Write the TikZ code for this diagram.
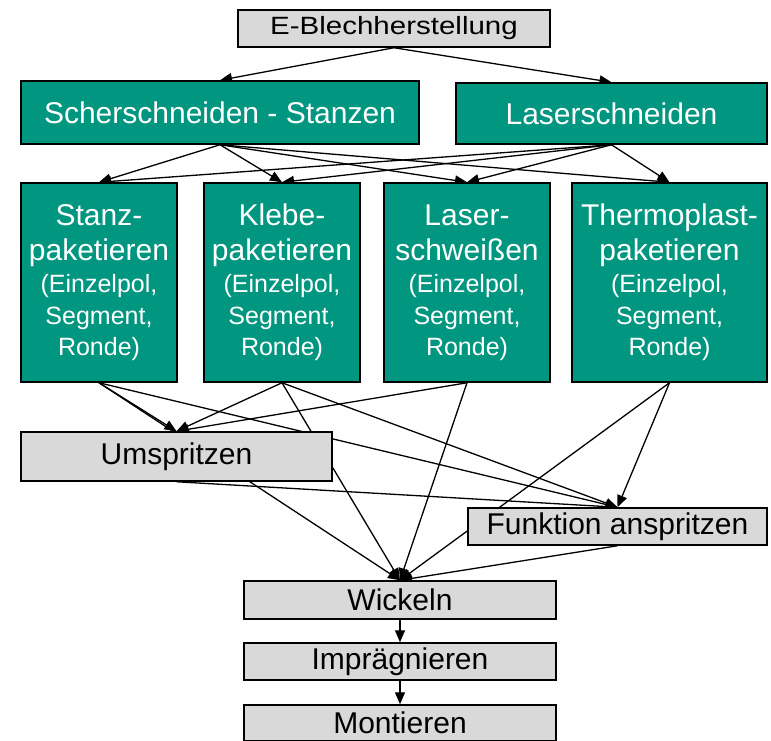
\documentclass[tikz,border=0pt]{standalone}
\usepackage{graphicx}
\usepackage{fontspec}
\setmainfont{Liberation Sans}
\usetikzlibrary{arrows.meta,backgrounds}

\definecolor{boxgreen}{RGB}{0,150,128}
\definecolor{boxgrey}{RGB}{217,217,217}
\newcommand{\bigf}{\fontsize{30}{35}\selectfont}
\newcommand{\smallf}{\fontsize{25}{30}\selectfont}

\begin{document}
\begin{tikzpicture}[x=1pt, y=-1pt,
		greybox/.style={draw, fill=boxgrey, line width=1.5pt, inner sep=0pt, font=\bigf},
		greenbox/.style={draw, fill=boxgreen, line width=1.5pt, inner sep=0pt, text=white, align=center, font=\bigf},
		arr/.style={-{Triangle[length=12pt,width=10pt]}, line width=1.3pt}]
		\useasboundingbox (0,0) rectangle (771,740);
		
		\node[greybox, minimum width=312pt, minimum height=37pt, font=\fontsize{25}{30}\selectfont] (eblech) at (394,28.5) {\scalebox{1.18}[1]{E-Blechherstellung}};
		\node[greenbox, minimum width=398pt, minimum height=63pt] (scher) at (220,112.5) {Scherschneiden - Stanzen};
		\node[greenbox, minimum width=311pt, minimum height=61pt] (laser) at (611.5,113.5) {Laserschneiden};
		
		\node[greenbox, minimum width=156pt, minimum height=199pt] (stanz) at (99,282.5) {Stanz-\\paketieren\\[-3pt]\smallf(Einzelpol,\\[-3pt]\smallf Segment,\\[-4pt]\smallf Ronde)};
		\node[greenbox, minimum width=156pt, minimum height=199pt] (klebe) at (282,282.5) {Klebe-\\paketieren\\[-3pt]\smallf(Einzelpol,\\[-3pt]\smallf Segment,\\[-4pt]\smallf Ronde)};
		\node[greenbox, minimum width=166pt, minimum height=199pt] (lschw) at (467,282.5) {Laser-\\schwei\ss en\\[-3pt]\smallf(Einzelpol,\\[-3pt]\smallf Segment,\\[-4pt]\smallf Ronde)};
		\node[greenbox, minimum width=195pt, minimum height=199pt] (thermo) at (669.5,282.5) {Thermoplast-\\paketieren\\[-3pt]\smallf(Einzelpol,\\[-3pt]\smallf Segment,\\[-4pt]\smallf Ronde)};
		
		\node[greybox, minimum width=311pt, minimum height=49pt] (umsp) at (176.5,456.5) {Umspritzen};
		\node[greybox, minimum width=299pt, minimum height=37pt] (funk) at (617.5,526.5) {Funktion anspritzen};
		\node[greybox, minimum width=312pt, minimum height=38pt] (wick) at (400,600) {Wickeln};
		\node[greybox, minimum width=312pt, minimum height=37pt] (impr) at (400,661.5) {Impr\"agnieren};
		\node[greybox, minimum width=312pt, minimum height=36pt] (mont) at (400,723) {Montieren};
		
		\begin{scope}[on background layer]
		\draw[arr] (eblech.south) to (scher.north);
		\draw[arr] (eblech.south) to (laser.north);
		
		\draw[arr] (scher.south) to (stanz.north);
		\draw[arr] (scher.south) to (klebe.north);
		\draw[arr] (scher.south) to (lschw.north);
		\draw[arr] (scher.south) to (thermo.north);
		\draw[arr] (laser.south) to (stanz.north);
		\draw[arr] (laser.south) to (klebe.north);
		\draw[arr] (laser.south) to (lschw.north);
		\draw[arr] (laser.south) to (thermo.north);
		
		\draw[arr] (stanz.south) to (umsp.north);
		\draw[arr] (stanz.south) to (funk.north);
		\draw[arr] (stanz.south) to (wick.north);
		\draw[arr] (klebe.south) to (umsp.north);
		\draw[arr] (klebe.south) to (funk.north);
		\draw[arr] (klebe.south) to (wick.north);
		\draw[arr] (lschw.south) to (umsp.north);
		\draw[arr] (lschw.south) to (wick.north);
		\draw[arr] (thermo.south) to (funk.north);
		\draw[arr] (thermo.south) to (wick.north);
		
		\draw[arr] (umsp.south) to (funk.north);
		\draw[arr] (funk.south) to (wick.north);
		\draw[arr] (wick.south) to (impr.north);
		\draw[arr] (impr.south) to (mont.north);
		\end{scope}
		
	\end{tikzpicture}
\end{document}
